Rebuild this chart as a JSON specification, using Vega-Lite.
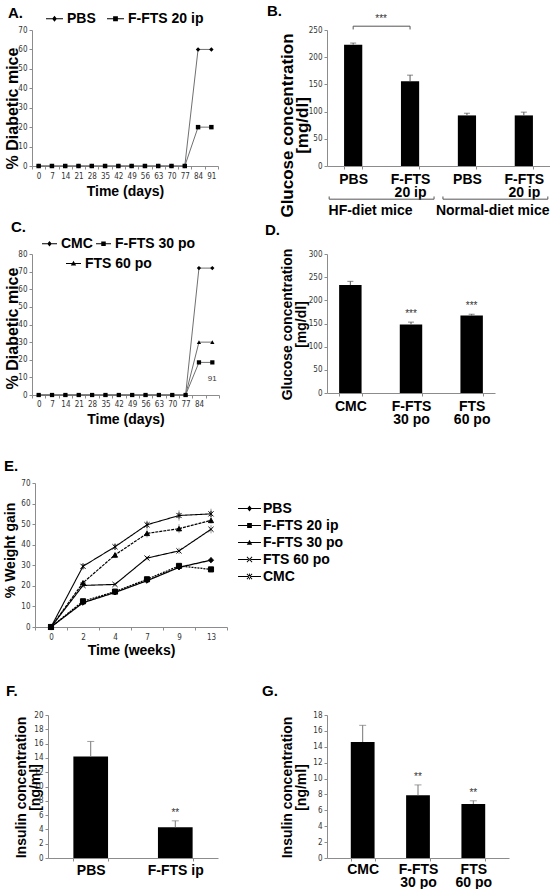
{
"$schema": "https://vega.github.io/schema/vega-lite/v6.json",
"background": "white",
"padding": {"left": 2, "top": 4, "right": 0, "bottom": 0},
"config": {
  "view": {"stroke": null},
  "font": "Liberation Sans",
  "axis": {"domainColor": "#8c8c8c", "tickColor": "#8c8c8c", "tickSize": 3, "labelFont": "Liberation Sans Narrow, Arial Narrow, DejaVu Sans Condensed, sans-serif", "labelFontSize": 8, "labelColor": "#333333", "grid": false, "titleFont": "Liberation Sans", "titleFontWeight": "bold", "titleColor": "black", "labelPadding": 2, "titleFontSize": 14, "labelOverlap": false},
  "axisX": {"labelAngle": 0},
  "legend": {"labelFont": "Liberation Sans", "labelFontWeight": "bold", "labelFontSize": 14, "labelColor": "black"},
  "title": {"anchor": "start", "frame": "group", "fontSize": 15, "fontWeight": "bold", "font": "Liberation Sans", "color": "black", "offset": 0}
},
"datasets": {
  "A": [
    {"day": 0, "group": "PBS", "pct": 0}, {"day": 7, "group": "PBS", "pct": 0}, {"day": 14, "group": "PBS", "pct": 0}, {"day": 21, "group": "PBS", "pct": 0}, {"day": 28, "group": "PBS", "pct": 0}, {"day": 35, "group": "PBS", "pct": 0}, {"day": 42, "group": "PBS", "pct": 0}, {"day": 49, "group": "PBS", "pct": 0}, {"day": 56, "group": "PBS", "pct": 0}, {"day": 63, "group": "PBS", "pct": 0}, {"day": 70, "group": "PBS", "pct": 0}, {"day": 77, "group": "PBS", "pct": 0}, {"day": 84, "group": "PBS", "pct": 60}, {"day": 91, "group": "PBS", "pct": 60},
    {"day": 0, "group": "F-FTS 20 ip", "pct": 0}, {"day": 7, "group": "F-FTS 20 ip", "pct": 0}, {"day": 14, "group": "F-FTS 20 ip", "pct": 0}, {"day": 21, "group": "F-FTS 20 ip", "pct": 0}, {"day": 28, "group": "F-FTS 20 ip", "pct": 0}, {"day": 35, "group": "F-FTS 20 ip", "pct": 0}, {"day": 42, "group": "F-FTS 20 ip", "pct": 0}, {"day": 49, "group": "F-FTS 20 ip", "pct": 0}, {"day": 56, "group": "F-FTS 20 ip", "pct": 0}, {"day": 63, "group": "F-FTS 20 ip", "pct": 0}, {"day": 70, "group": "F-FTS 20 ip", "pct": 0}, {"day": 77, "group": "F-FTS 20 ip", "pct": 0}, {"day": 84, "group": "F-FTS 20 ip", "pct": 20}, {"day": 91, "group": "F-FTS 20 ip", "pct": 20}
  ],
  "B": [
    {"key": "PBS (HF)", "diet": "HF-diet mice", "treatment": "PBS", "glucose": 223, "hi": 226},
    {"key": "F-FTS 20 ip (HF)", "diet": "HF-diet mice", "treatment": "F-FTS 20 ip", "glucose": 156, "hi": 167},
    {"key": "PBS (normal)", "diet": "Normal-diet mice", "treatment": "PBS", "glucose": 93, "hi": 97},
    {"key": "F-FTS 20 ip (normal)", "diet": "Normal-diet mice", "treatment": "F-FTS 20 ip", "glucose": 93, "hi": 99}
  ],
  "B_sig": [{"from": "PBS (HF)", "to": "F-FTS 20 ip (HF)", "label": "***"}],
  "B_groups": [{"from": "PBS (HF)", "to": "F-FTS 20 ip (HF)"}, {"from": "PBS (normal)", "to": "F-FTS 20 ip (normal)"}],
  "C": [
    {"day": 0, "group": "CMC", "pct": 0}, {"day": 7, "group": "CMC", "pct": 0}, {"day": 14, "group": "CMC", "pct": 0}, {"day": 21, "group": "CMC", "pct": 0}, {"day": 28, "group": "CMC", "pct": 0}, {"day": 35, "group": "CMC", "pct": 0}, {"day": 42, "group": "CMC", "pct": 0}, {"day": 49, "group": "CMC", "pct": 0}, {"day": 56, "group": "CMC", "pct": 0}, {"day": 63, "group": "CMC", "pct": 0}, {"day": 70, "group": "CMC", "pct": 0}, {"day": 77, "group": "CMC", "pct": 0}, {"day": 84, "group": "CMC", "pct": 72}, {"day": 91, "group": "CMC", "pct": 72},
    {"day": 0, "group": "FTS 60 po", "pct": 0}, {"day": 7, "group": "FTS 60 po", "pct": 0}, {"day": 14, "group": "FTS 60 po", "pct": 0}, {"day": 21, "group": "FTS 60 po", "pct": 0}, {"day": 28, "group": "FTS 60 po", "pct": 0}, {"day": 35, "group": "FTS 60 po", "pct": 0}, {"day": 42, "group": "FTS 60 po", "pct": 0}, {"day": 49, "group": "FTS 60 po", "pct": 0}, {"day": 56, "group": "FTS 60 po", "pct": 0}, {"day": 63, "group": "FTS 60 po", "pct": 0}, {"day": 70, "group": "FTS 60 po", "pct": 0}, {"day": 77, "group": "FTS 60 po", "pct": 0}, {"day": 84, "group": "FTS 60 po", "pct": 30}, {"day": 91, "group": "FTS 60 po", "pct": 30},
    {"day": 0, "group": "F-FTS 30 po", "pct": 0}, {"day": 7, "group": "F-FTS 30 po", "pct": 0}, {"day": 14, "group": "F-FTS 30 po", "pct": 0}, {"day": 21, "group": "F-FTS 30 po", "pct": 0}, {"day": 28, "group": "F-FTS 30 po", "pct": 0}, {"day": 35, "group": "F-FTS 30 po", "pct": 0}, {"day": 42, "group": "F-FTS 30 po", "pct": 0}, {"day": 49, "group": "F-FTS 30 po", "pct": 0}, {"day": 56, "group": "F-FTS 30 po", "pct": 0}, {"day": 63, "group": "F-FTS 30 po", "pct": 0}, {"day": 70, "group": "F-FTS 30 po", "pct": 0}, {"day": 77, "group": "F-FTS 30 po", "pct": 0}, {"day": 84, "group": "F-FTS 30 po", "pct": 18.5}, {"day": 91, "group": "F-FTS 30 po", "pct": 18.5}
  ],
  "C_note": [{"day": 91, "label": "91"}],
  "D": [
    {"treatment": "CMC", "glucose": 233, "hi": 241, "sig": ""},
    {"treatment": "F-FTS 30 po", "glucose": 148, "hi": 153, "sig": "***"},
    {"treatment": "FTS 60 po", "glucose": 167, "hi": 170, "sig": "***"}
  ],
  "E": [
    {"week": 0, "group": "PBS", "pct": 0, "lo": 0, "hi": 0}, {"week": 2, "group": "PBS", "pct": 11.8, "lo": 10.8, "hi": 12.8}, {"week": 4, "group": "PBS", "pct": 16.8, "lo": 16, "hi": 17.6}, {"week": 7, "group": "PBS", "pct": 22.5, "lo": 21.5, "hi": 23.5}, {"week": 9, "group": "PBS", "pct": 29, "lo": 27.8, "hi": 30.2}, {"week": 13, "group": "PBS", "pct": 32.5, "lo": 31, "hi": 34},
    {"week": 0, "group": "F-FTS 20 ip", "pct": 0, "lo": 0, "hi": 0}, {"week": 2, "group": "F-FTS 20 ip", "pct": 12.5, "lo": 11.5, "hi": 13.5}, {"week": 4, "group": "F-FTS 20 ip", "pct": 17.2, "lo": 16.4, "hi": 18}, {"week": 7, "group": "F-FTS 20 ip", "pct": 23.2, "lo": 22.2, "hi": 24.2}, {"week": 9, "group": "F-FTS 20 ip", "pct": 29.7, "lo": 28.5, "hi": 30.9}, {"week": 13, "group": "F-FTS 20 ip", "pct": 28, "lo": 26.8, "hi": 29.2},
    {"week": 0, "group": "F-FTS 30 po", "pct": 0, "lo": 0, "hi": 0}, {"week": 2, "group": "F-FTS 30 po", "pct": 21.5, "lo": 20.5, "hi": 22.5}, {"week": 4, "group": "F-FTS 30 po", "pct": 35, "lo": 33.5, "hi": 36.5}, {"week": 7, "group": "F-FTS 30 po", "pct": 45.5, "lo": 43.5, "hi": 47.5}, {"week": 9, "group": "F-FTS 30 po", "pct": 47.8, "lo": 45.6, "hi": 50}, {"week": 13, "group": "F-FTS 30 po", "pct": 51.8, "lo": 50.3, "hi": 53.3},
    {"week": 0, "group": "FTS 60 po", "pct": 0, "lo": 0, "hi": 0}, {"week": 2, "group": "FTS 60 po", "pct": 20.2, "lo": 19.2, "hi": 21.2}, {"week": 4, "group": "FTS 60 po", "pct": 20.7, "lo": 19.7, "hi": 21.7}, {"week": 7, "group": "FTS 60 po", "pct": 33.5, "lo": 32.5, "hi": 34.5}, {"week": 9, "group": "FTS 60 po", "pct": 37, "lo": 35.5, "hi": 38.5}, {"week": 13, "group": "FTS 60 po", "pct": 47.5, "lo": 45.5, "hi": 49.5},
    {"week": 0, "group": "CMC", "pct": 0, "lo": 0, "hi": 0}, {"week": 2, "group": "CMC", "pct": 29.5, "lo": 28.5, "hi": 30.5}, {"week": 4, "group": "CMC", "pct": 39, "lo": 37.5, "hi": 40.5}, {"week": 7, "group": "CMC", "pct": 49.7, "lo": 47.7, "hi": 51.7}, {"week": 9, "group": "CMC", "pct": 54.2, "lo": 51.7, "hi": 56.7}, {"week": 13, "group": "CMC", "pct": 55, "lo": 52.5, "hi": 57.5}
  ],
  "F": [
    {"treatment": "PBS", "insulin": 14.2, "hi": 16.3, "sig": ""},
    {"treatment": "F-FTS ip", "insulin": 4.3, "hi": 5.2, "sig": "**"}
  ],
  "G": [
    {"treatment": "CMC", "insulin": 14.6, "hi": 16.7, "sig": ""},
    {"treatment": "F-FTS 30 po", "insulin": 7.9, "hi": 9.2, "sig": "**"},
    {"treatment": "FTS 60 po", "insulin": 6.8, "hi": 7.2, "sig": "**"}
  ]
},
"columns": 2,
"align": "each",
"bounds": "flush",
"spacing": {"row": 88, "column": 100},
"concat": [
  {
   "width": 186, "height": 136,
   "title": {"text": "A.", "dx": -24, "dy": 16},
   "data": {"name": "A"},
   "encoding": {
    "x": {"field": "day", "type": "ordinal", "bandPosition": 0.5, "scale": {"type": "band", "paddingInner": 0, "paddingOuter": 0}, "axis": {"title": "Time (days)", "tickBand": "extent", "labelPadding": 3, "titleY": 18}},
    "y": {"field": "pct", "type": "quantitative", "scale": {"domain": [0, 70], "nice": false}, "axis": {"values": [0, 10, 20, 30, 40, 50, 60, 70], "title": "% Diabetic mice", "titleFontSize": 16, "titleX": -12, "titleY": 78}}
   },
   "layer": [
    {"mark": {"type": "line", "color": "#707070", "strokeWidth": 1}, "encoding": {"detail": {"field": "group"}}},
    {"mark": {"type": "point", "filled": true, "color": "black", "size": 20, "opacity": 1}, "encoding": {"shape": {"field": "group", "scale": {"domain": ["PBS", "F-FTS 20 ip"], "range": ["diamond", "square"]}, "legend": null}}},
    {"mark": {"type": "point", "filled": true, "color": "black", "opacity": 0}, "encoding": {"shape": {"field": "group", "scale": {"domain": ["PBS", "F-FTS 20 ip"], "range": ["M-1,-0.06L1,-0.06L1,0.06L-1,0.06ZM0,-0.35L0.28,0L0,0.35L-0.28,0Z", "M-1,-0.06L1,-0.06L1,0.06L-1,0.06ZM-0.28,-0.28L0.28,-0.28L0.28,0.28L-0.28,0.28Z"]}, "legend": {"orient": "none", "legendX": 13, "legendY": -21, "direction": "horizontal", "title": null, "symbolSize": 289, "labelOffset": 3, "columnPadding": 8, "encode": {"symbols": {"update": {"fill": {"value": "black"}, "strokeWidth": {"value": 0}, "opacity": {"value": 1}}}}}}}}
   ],
   "resolve": {"scale": {"shape": "independent"}}
  },
  {
   "width": 223, "height": 136,
   "title": {"text": "B.", "dx": -60, "dy": 9},
   "layer": [
    {"data": {"name": "B"}, "mark": {"type": "bar", "color": "black"},
     "encoding": {
      "x": {"field": "key", "type": "nominal", "scale": {"type": "band", "domain": ["PBS (HF)", "F-FTS 20 ip (HF)", "PBS (normal)", "F-FTS 20 ip (normal)"], "paddingInner": 0.68, "paddingOuter": 0.3}, "axis": {"title": "HF-diet mice\u00a0\u00a0\u00a0\u00a0\u00a0\u00a0Normal-diet mice", "titleY": 37, "tickBand": "extent", "labelExpr": "indexof(datum.label, 'PBS') == 0 ? 'PBS' : (indexof(datum.label, 'F-FTS') == 0 ? ['F-FTS', '20 ip'] : '')", "labelFont": "Liberation Sans", "labelFontWeight": "bold", "labelFontSize": 14, "labelColor": "black", "labelLineHeight": 13, "labelPadding": 3}},
      "y": {"field": "glucose", "type": "quantitative", "scale": {"domain": [0, 250], "nice": false}, "axis": {"values": [0, 50, 100, 150, 200, 250], "title": ["Glucose concentration", "[mg/dl]"], "titleFontSize": 17, "titleLineHeight": 15, "titleX": -31, "titleY": 95}}
     }},
    {"data": {"name": "B"}, "mark": {"type": "rule", "color": "#555555"},
     "encoding": {"x": {"field": "key", "type": "nominal"}, "y": {"field": "glucose", "type": "quantitative", "scale": {"domain": [0, 250], "nice": false}, "axis": {"values": [0, 50, 100, 150, 200, 250], "title": ["Glucose concentration", "[mg/dl]"], "titleFontSize": 17, "titleLineHeight": 15, "titleX": -31, "titleY": 95}}, "y2": {"field": "hi"}}},
    {"data": {"name": "B"}, "mark": {"type": "tick", "orient": "horizontal", "color": "#555555", "size": 6, "thickness": 1},
     "encoding": {"x": {"field": "key", "type": "nominal"}, "y": {"field": "hi", "type": "quantitative", "scale": {"domain": [0, 250], "nice": false}, "axis": {"values": [0, 50, 100, 150, 200, 250], "title": ["Glucose concentration", "[mg/dl]"], "titleFontSize": 17, "titleLineHeight": 15, "titleX": -31, "titleY": 95}}}},
    {"data": {"name": "B_sig"}, "mark": {"type": "rule", "color": "#555555"},
     "encoding": {"x": {"field": "from", "type": "nominal"}, "x2": {"field": "to"}, "y": {"datum": 257, "type": "quantitative", "scale": {"domain": [0, 250], "nice": false}, "axis": {"values": [0, 50, 100, 150, 200, 250], "title": ["Glucose concentration", "[mg/dl]"], "titleFontSize": 17, "titleLineHeight": 15, "titleX": -31, "titleY": 95}}}},
    {"data": {"name": "B_sig"}, "mark": {"type": "rule", "color": "#555555"},
     "encoding": {"x": {"field": "from", "type": "nominal"}, "y": {"datum": 251, "type": "quantitative", "scale": {"domain": [0, 250], "nice": false}, "axis": {"values": [0, 50, 100, 150, 200, 250], "title": ["Glucose concentration", "[mg/dl]"], "titleFontSize": 17, "titleLineHeight": 15, "titleX": -31, "titleY": 95}}, "y2": {"datum": 257}}},
    {"data": {"name": "B_sig"}, "mark": {"type": "rule", "color": "#555555"},
     "encoding": {"x": {"field": "to", "type": "nominal"}, "y": {"datum": 251, "type": "quantitative", "scale": {"domain": [0, 250], "nice": false}, "axis": {"values": [0, 50, 100, 150, 200, 250], "title": ["Glucose concentration", "[mg/dl]"], "titleFontSize": 17, "titleLineHeight": 15, "titleX": -31, "titleY": 95}}, "y2": {"datum": 257}}},
    {"data": {"name": "B_sig"}, "mark": {"type": "text", "dx": 28, "dy": -2, "baseline": "bottom", "fontSize": 10, "font": "Liberation Sans Narrow, Arial Narrow, sans-serif", "color": "#333333"},
     "encoding": {"x": {"field": "from", "type": "nominal"}, "y": {"datum": 257, "type": "quantitative", "scale": {"domain": [0, 250], "nice": false}, "axis": {"values": [0, 50, 100, 150, 200, 250], "title": ["Glucose concentration", "[mg/dl]"], "titleFontSize": 17, "titleLineHeight": 15, "titleX": -31, "titleY": 95}}, "text": {"field": "label"}}},
    {"data": {"name": "B_groups"}, "mark": {"type": "rule", "color": "#555555", "xOffset": -24, "x2Offset": 24},
     "encoding": {"x": {"field": "from", "type": "nominal"}, "x2": {"field": "to"}, "y": {"datum": -61, "type": "quantitative", "scale": {"domain": [0, 250], "nice": false}, "axis": {"values": [0, 50, 100, 150, 200, 250], "title": ["Glucose concentration", "[mg/dl]"], "titleFontSize": 17, "titleLineHeight": 15, "titleX": -31, "titleY": 95}}}},
    {"data": {"name": "B_groups"}, "mark": {"type": "rule", "color": "#555555", "xOffset": -24},
     "encoding": {"x": {"field": "from", "type": "nominal"}, "y": {"datum": -61, "type": "quantitative", "scale": {"domain": [0, 250], "nice": false}, "axis": {"values": [0, 50, 100, 150, 200, 250], "title": ["Glucose concentration", "[mg/dl]"], "titleFontSize": 17, "titleLineHeight": 15, "titleX": -31, "titleY": 95}}, "y2": {"datum": -56}}},
    {"data": {"name": "B_groups"}, "mark": {"type": "rule", "color": "#555555", "xOffset": 24},
     "encoding": {"x": {"field": "to", "type": "nominal"}, "y": {"datum": -61, "type": "quantitative", "scale": {"domain": [0, 250], "nice": false}, "axis": {"values": [0, 50, 100, 150, 200, 250], "title": ["Glucose concentration", "[mg/dl]"], "titleFontSize": 17, "titleLineHeight": 15, "titleX": -31, "titleY": 95}}, "y2": {"datum": -56}}}
   ]
  },
  {
   "width": 187, "height": 141,
   "title": {"text": "C.", "dx": -21, "dy": 4},
   "layer": [
    {"data": {"name": "C"}, "mark": {"type": "line", "color": "#707070", "strokeWidth": 1},
     "encoding": {
      "x": {"field": "day", "type": "ordinal", "bandPosition": 0.5, "scale": {"type": "band", "paddingInner": 0, "paddingOuter": 0}, "axis": {"title": "Time (days)", "tickBand": "extent", "labelPadding": 2, "titleY": 17, "labelExpr": "datum.value == 91 ? '' : datum.label"}},
      "y": {"field": "pct", "type": "quantitative", "scale": {"domain": [0, 80], "nice": false}, "axis": {"values": [0, 10, 20, 30, 40, 50, 60, 70, 80], "title": "% Diabetic mice", "titleFontSize": 16, "titleX": -12, "titleY": 74}},
      "detail": {"field": "group"}}},
    {"data": {"name": "C"}, "mark": {"type": "point", "filled": true, "color": "black", "size": 18, "opacity": 1},
     "encoding": {
      "x": {"field": "day", "type": "ordinal", "bandPosition": 0.5, "scale": {"type": "band", "paddingInner": 0, "paddingOuter": 0}, "axis": {"title": "Time (days)", "tickBand": "extent", "labelPadding": 2, "titleY": 17, "labelExpr": "datum.value == 91 ? '' : datum.label"}},
      "y": {"field": "pct", "type": "quantitative", "scale": {"domain": [0, 80], "nice": false}, "axis": {"values": [0, 10, 20, 30, 40, 50, 60, 70, 80], "title": "% Diabetic mice", "titleFontSize": 16, "titleX": -12, "titleY": 74}},
      "shape": {"field": "group", "scale": {"domain": ["CMC", "F-FTS 30 po", "FTS 60 po"], "range": ["diamond", "square", "triangle-up"]}, "legend": null}}},
    {"data": {"name": "C"}, "transform": [{"filter": {"field": "group", "oneOf": ["CMC", "F-FTS 30 po"]}}], "mark": {"type": "point", "filled": true, "color": "black", "opacity": 0},
     "encoding": {
      "x": {"field": "day", "type": "ordinal", "bandPosition": 0.5, "scale": {"type": "band", "paddingInner": 0, "paddingOuter": 0}, "axis": {"title": "Time (days)", "tickBand": "extent", "labelPadding": 2, "titleY": 17, "labelExpr": "datum.value == 91 ? '' : datum.label"}},
      "y": {"field": "pct", "type": "quantitative", "scale": {"domain": [0, 80], "nice": false}, "axis": {"values": [0, 10, 20, 30, 40, 50, 60, 70, 80], "title": "% Diabetic mice", "titleFontSize": 16, "titleX": -12, "titleY": 74}},
      "shape": {"field": "group", "scale": {"domain": ["CMC", "F-FTS 30 po"], "range": ["M-1,-0.07L1,-0.07L1,0.07L-1,0.07ZM0,-0.38L0.3,0L0,0.38L-0.3,0Z", "M-1,-0.07L1,-0.07L1,0.07L-1,0.07ZM-0.3,-0.3L0.3,-0.3L0.3,0.3L-0.3,0.3Z"]}, "legend": {"orient": "none", "legendX": 9, "legendY": -19, "direction": "horizontal", "title": null, "symbolSize": 225, "labelOffset": 3, "columnPadding": 0, "encode": {"symbols": {"update": {"fill": {"value": "black"}, "strokeWidth": {"value": 0}, "opacity": {"value": 1}}}}}}}},
    {"data": {"name": "C"}, "transform": [{"filter": {"field": "group", "equal": "FTS 60 po"}}], "mark": {"type": "point", "filled": true, "color": "black", "opacity": 0},
     "encoding": {
      "x": {"field": "day", "type": "ordinal", "bandPosition": 0.5, "scale": {"type": "band", "paddingInner": 0, "paddingOuter": 0}, "axis": {"title": "Time (days)", "tickBand": "extent", "labelPadding": 2, "titleY": 17, "labelExpr": "datum.value == 91 ? '' : datum.label"}},
      "y": {"field": "pct", "type": "quantitative", "scale": {"domain": [0, 80], "nice": false}, "axis": {"values": [0, 10, 20, 30, 40, 50, 60, 70, 80], "title": "% Diabetic mice", "titleFontSize": 16, "titleX": -12, "titleY": 74}},
      "shape": {"field": "group", "scale": {"domain": ["FTS 60 po"], "range": ["M-1,-0.07L1,-0.07L1,0.07L-1,0.07ZM0,-0.36L0.36,0.28L-0.36,0.28Z"]}, "legend": {"orient": "none", "legendX": 33, "legendY": 1, "direction": "horizontal", "title": null, "symbolSize": 225, "labelOffset": 3, "encode": {"symbols": {"update": {"fill": {"value": "black"}, "strokeWidth": {"value": 0}, "opacity": {"value": 1}}}}}}}},
    {"data": {"name": "C_note"}, "mark": {"type": "text", "font": "Liberation Sans Narrow, Arial Narrow, sans-serif", "fontSize": 8, "color": "#333333"},
     "encoding": {
      "x": {"field": "day", "type": "ordinal", "bandPosition": 0.5, "scale": {"type": "band", "paddingInner": 0, "paddingOuter": 0}, "axis": {"title": "Time (days)", "tickBand": "extent", "labelPadding": 2, "titleY": 17, "labelExpr": "datum.value == 91 ? '' : datum.label"}},
      "y": {"datum": 9, "type": "quantitative", "scale": {"domain": [0, 80], "nice": false}, "axis": {"values": [0, 10, 20, 30, 40, 50, 60, 70, 80], "title": "% Diabetic mice", "titleFontSize": 16, "titleX": -12, "titleY": 74}},
      "text": {"field": "label"}}}
   ],
   "resolve": {"scale": {"shape": "independent"}}
  },
  {
   "width": 168, "height": 139,
   "title": {"text": "D.", "dx": -62, "dy": -6},
   "data": {"name": "D"},
   "encoding": {
    "x": {"field": "treatment", "type": "nominal", "scale": {"type": "band", "domain": ["CMC", "F-FTS 30 po", "FTS 60 po"], "paddingInner": 0.63, "paddingOuter": 0.2}, "axis": {"title": null, "tickBand": "extent", "labelExpr": "datum.label == 'CMC' ? 'CMC' : [slice(datum.label, 0, indexof(datum.label, ' ')), slice(datum.label, indexof(datum.label, ' ') + 1)]", "labelFont": "Liberation Sans", "labelFontWeight": "bold", "labelFontSize": 14, "labelColor": "black", "labelLineHeight": 13, "labelPadding": 3}}
   },
   "layer": [
    {"mark": {"type": "bar", "color": "black"}, "encoding": {"y": {"field": "glucose", "type": "quantitative", "scale": {"domain": [0, 300], "nice": false}, "axis": {"values": [0, 50, 100, 150, 200, 250, 300], "title": ["Glucose concentration", "[mg/dl]"], "titleFontSize": 14, "titleLineHeight": 14, "titleX": -33, "titleY": 70}}}},
    {"mark": {"type": "rule", "color": "#555555"}, "encoding": {"y": {"field": "glucose", "type": "quantitative", "scale": {"domain": [0, 300], "nice": false}, "axis": {"values": [0, 50, 100, 150, 200, 250, 300], "title": ["Glucose concentration", "[mg/dl]"], "titleFontSize": 14, "titleLineHeight": 14, "titleX": -33, "titleY": 70}}, "y2": {"field": "hi"}}},
    {"mark": {"type": "tick", "orient": "horizontal", "color": "#555555", "size": 6, "thickness": 1}, "encoding": {"y": {"field": "hi", "type": "quantitative", "scale": {"domain": [0, 300], "nice": false}, "axis": {"values": [0, 50, 100, 150, 200, 250, 300], "title": ["Glucose concentration", "[mg/dl]"], "titleFontSize": 14, "titleLineHeight": 14, "titleX": -33, "titleY": 70}}}},
    {"mark": {"type": "text", "baseline": "bottom", "dy": -3, "fontSize": 10, "font": "Liberation Sans Narrow, Arial Narrow, sans-serif", "color": "#333333"}, "encoding": {"y": {"field": "hi", "type": "quantitative", "scale": {"domain": [0, 300], "nice": false}, "axis": {"values": [0, 50, 100, 150, 200, 250, 300], "title": ["Glucose concentration", "[mg/dl]"], "titleFontSize": 14, "titleLineHeight": 14, "titleX": -33, "titleY": 70}}, "text": {"field": "sig"}}}
   ]
  },
  {
   "width": 195, "height": 144,
   "title": {"text": "E.", "dx": -28, "dy": -1},
   "data": {"name": "E"},
   "encoding": {
    "x": {"field": "week", "type": "ordinal", "bandPosition": 0.5, "scale": {"type": "band", "paddingInner": 0, "paddingOuter": 0, "range": [3, 195]}, "axis": {"title": "Time (weeks)", "tickBand": "extent", "labelPadding": 3, "labelDx": 7, "titleY": 16}},
    "y": {"field": "pct", "type": "quantitative", "scale": {"domain": [0, 70], "nice": false}, "axis": {"offset": -3, "values": [0, 10, 20, 30, 40, 50, 60, 70], "title": "% Weight gain", "titleX": -18, "titleY": 67}}
   },
   "layer": [
    {"mark": {"type": "rule", "color": "#9a9a9a", "strokeWidth": 1}, "encoding": {"y": {"field": "lo", "type": "quantitative", "scale": {"domain": [0, 70], "nice": false}, "axis": {"offset": -3, "values": [0, 10, 20, 30, 40, 50, 60, 70], "title": "% Weight gain", "titleX": -18, "titleY": 67}}, "y2": {"field": "hi"}}},
    {"mark": {"type": "line", "color": "black"}, "encoding": {"detail": {"field": "group"},
      "strokeWidth": {"field": "group", "type": "nominal", "scale": {"domain": ["PBS", "F-FTS 20 ip", "F-FTS 30 po", "FTS 60 po", "CMC"], "range": [1.3, 1.1, 1.2, 1.3, 2]}, "legend": null},
      "strokeDash": {"field": "group", "type": "nominal", "scale": {"domain": ["PBS", "F-FTS 20 ip", "F-FTS 30 po", "FTS 60 po", "CMC"], "range": [[1, 0], [2, 1], [3, 1], [1, 0], [1, 0]]}, "legend": null}}},
    {"mark": {"type": "point", "filled": true, "fill": "black", "stroke": "black", "strokeWidth": 1, "size": 26, "opacity": 1}, "encoding": {"shape": {"field": "group", "scale": {"domain": ["PBS", "F-FTS 20 ip", "F-FTS 30 po", "FTS 60 po", "CMC"], "range": ["diamond", "square", "triangle-up", "M-1,-1L1,1M-1,1L1,-1", "M-1,-1L1,1M-1,1L1,-1M0,-1.2L0,1.2"]}, "legend": null}}},
    {"mark": {"type": "point", "filled": true, "color": "black", "opacity": 0}, "encoding": {"shape": {"field": "group", "scale": {"domain": ["PBS", "F-FTS 20 ip", "F-FTS 30 po", "FTS 60 po", "CMC"], "range": [
      "M-1.35,-0.06L1.35,-0.06L1.35,0.06L-1.35,0.06ZM0,-0.35L0.28,0L0,0.35L-0.28,0Z",
      "M-1.35,-0.06L1.35,-0.06L1.35,0.06L-1.35,0.06ZM-0.28,-0.28L0.28,-0.28L0.28,0.28L-0.28,0.28Z",
      "M-1.35,-0.06L1.35,-0.06L1.35,0.06L-1.35,0.06ZM0,-0.32L0.32,0.26L-0.32,0.26Z",
      "M-1.35,-0.06L1.35,-0.06L1.35,0.06L-1.35,0.06ZM-0.34,-0.27L0.27,0.34L0.34,0.27L-0.27,-0.34ZM-0.34,0.27L-0.27,0.34L0.34,-0.27L0.27,-0.34Z",
      "M-1.35,-0.06L1.35,-0.06L1.35,0.06L-1.35,0.06ZM-0.34,-0.27L0.27,0.34L0.34,0.27L-0.27,-0.34ZM-0.34,0.27L-0.27,0.34L0.34,-0.27L0.27,-0.34ZM-0.05,-0.36L0.05,-0.36L0.05,0.36L-0.05,0.36Z"
     ]}, "legend": {"orient": "none", "legendX": 208, "legendY": 16, "direction": "vertical", "title": null, "symbolSize": 289, "labelOffset": 4, "rowPadding": 0, "encode": {"symbols": {"update": {"fill": {"value": "black"}, "strokeWidth": {"value": 0}, "opacity": {"value": 1}}}}}}}}
   ],
   "resolve": {"scale": {"shape": "independent"}}
  },
  {"width": 1, "height": 1, "data": {"values": [{}]}, "mark": {"type": "point", "opacity": 0}, "encoding": {}},
  {
   "width": 186, "height": 143,
   "title": {"text": "F.", "dx": -26, "dy": -8},
   "data": {"name": "F"},
   "encoding": {
    "x": {"field": "treatment", "type": "nominal", "scale": {"type": "band", "domain": ["PBS", "F-FTS ip"], "paddingInner": 0.59, "paddingOuter": 0.3, "range": [16, 186]}, "axis": {"title": null, "tickBand": "extent", "labelFont": "Liberation Sans", "labelFontWeight": "bold", "labelFontSize": 14, "labelColor": "black", "labelPadding": 2}}
   },
   "layer": [
    {"mark": {"type": "bar", "color": "black"}, "encoding": {"y": {"field": "insulin", "type": "quantitative", "scale": {"domain": [0, 20], "nice": false}, "axis": {"offset": -16, "values": [0, 2, 4, 6, 8, 10, 12, 14, 16, 18, 20], "title": ["Insulin concentration", "[ng/ml]"], "titleFontSize": 14, "titleLineHeight": 14, "titleX": -20, "titleY": 72}}}},
    {"mark": {"type": "rule", "color": "#777777"}, "encoding": {"y": {"field": "insulin", "type": "quantitative", "scale": {"domain": [0, 20], "nice": false}, "axis": {"offset": -16, "values": [0, 2, 4, 6, 8, 10, 12, 14, 16, 18, 20], "title": ["Insulin concentration", "[ng/ml]"], "titleFontSize": 14, "titleLineHeight": 14, "titleX": -20, "titleY": 72}}, "y2": {"field": "hi"}}},
    {"mark": {"type": "tick", "orient": "horizontal", "color": "#777777", "size": 7, "thickness": 1}, "encoding": {"y": {"field": "hi", "type": "quantitative", "scale": {"domain": [0, 20], "nice": false}, "axis": {"offset": -16, "values": [0, 2, 4, 6, 8, 10, 12, 14, 16, 18, 20], "title": ["Insulin concentration", "[ng/ml]"], "titleFontSize": 14, "titleLineHeight": 14, "titleX": -20, "titleY": 72}}}},
    {"mark": {"type": "text", "baseline": "bottom", "dy": -3, "fontSize": 10, "font": "Liberation Sans Narrow, Arial Narrow, sans-serif", "color": "#333333"}, "encoding": {"y": {"field": "hi", "type": "quantitative", "scale": {"domain": [0, 20], "nice": false}, "axis": {"offset": -16, "values": [0, 2, 4, 6, 8, 10, 12, 14, 16, 18, 20], "title": ["Insulin concentration", "[ng/ml]"], "titleFontSize": 14, "titleLineHeight": 14, "titleX": -20, "titleY": 72}}, "text": {"field": "sig"}}}
   ]
  },
  {
   "width": 182, "height": 143,
   "title": {"text": "G.", "dx": -65, "dy": -8},
   "data": {"name": "G"},
   "encoding": {
    "x": {"field": "treatment", "type": "nominal", "scale": {"type": "band", "domain": ["CMC", "F-FTS 30 po", "FTS 60 po"], "paddingInner": 0.57, "paddingOuter": 0.43}, "axis": {"title": null, "tickBand": "extent", "labelExpr": "datum.label == 'CMC' ? 'CMC' : [slice(datum.label, 0, indexof(datum.label, ' ')), slice(datum.label, indexof(datum.label, ' ') + 1)]", "labelFont": "Liberation Sans", "labelFontWeight": "bold", "labelFontSize": 14, "labelColor": "black", "labelLineHeight": 13, "labelPadding": 1}}
   },
   "layer": [
    {"mark": {"type": "bar", "color": "black"}, "encoding": {"y": {"field": "insulin", "type": "quantitative", "scale": {"domain": [0, 18], "nice": false}, "axis": {"values": [0, 2, 4, 6, 8, 10, 12, 14, 16, 18], "title": ["Insulin concentration", "[ng/ml]"], "titleFontSize": 14, "titleLineHeight": 14, "titleX": -33, "titleY": 72}}}},
    {"mark": {"type": "rule", "color": "#777777"}, "encoding": {"y": {"field": "insulin", "type": "quantitative", "scale": {"domain": [0, 18], "nice": false}, "axis": {"values": [0, 2, 4, 6, 8, 10, 12, 14, 16, 18], "title": ["Insulin concentration", "[ng/ml]"], "titleFontSize": 14, "titleLineHeight": 14, "titleX": -33, "titleY": 72}}, "y2": {"field": "hi"}}},
    {"mark": {"type": "tick", "orient": "horizontal", "color": "#777777", "size": 7, "thickness": 1}, "encoding": {"y": {"field": "hi", "type": "quantitative", "scale": {"domain": [0, 18], "nice": false}, "axis": {"values": [0, 2, 4, 6, 8, 10, 12, 14, 16, 18], "title": ["Insulin concentration", "[ng/ml]"], "titleFontSize": 14, "titleLineHeight": 14, "titleX": -33, "titleY": 72}}}},
    {"mark": {"type": "text", "baseline": "bottom", "dy": -3, "fontSize": 10, "font": "Liberation Sans Narrow, Arial Narrow, sans-serif", "color": "#333333"}, "encoding": {"y": {"field": "hi", "type": "quantitative", "scale": {"domain": [0, 18], "nice": false}, "axis": {"values": [0, 2, 4, 6, 8, 10, 12, 14, 16, 18], "title": ["Insulin concentration", "[ng/ml]"], "titleFontSize": 14, "titleLineHeight": 14, "titleX": -33, "titleY": 72}}, "text": {"field": "sig"}}}
   ]
  }
]
}
